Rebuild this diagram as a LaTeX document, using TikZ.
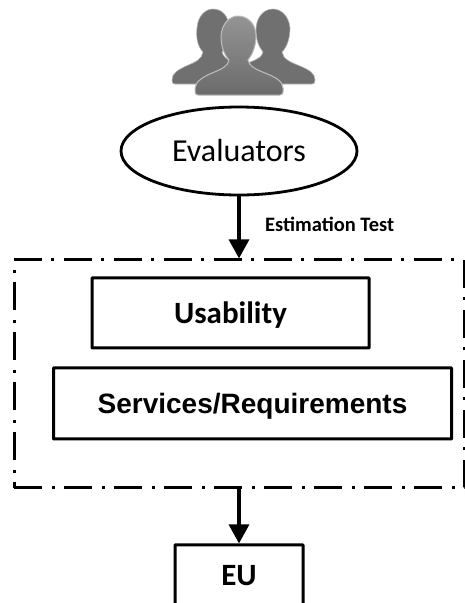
\documentclass[tikz,border=0pt]{standalone}
\usepackage{fontspec}
\setmainfont{Carlito}
\newfontfamily\arialfont{Liberation Sans}
\usetikzlibrary{positioning,arrows.meta,shapes.geometric}

\tikzset{
    block/.style={draw, line width=3pt, rounded corners=0.5pt, inner sep=0pt, text depth=0pt, font=\bfseries\fontsize{31}{33}\selectfont},
    group/.style={draw, line width=3pt, dash pattern=on 28pt off 10pt on 3pt off 9pt, minimum width=450pt, minimum height=228pt},
    edge/.style={line width=3.4pt, -{Triangle[length=19pt, width=20pt]}},
    person/.style={fill=black!56, draw=black!30, line width=0.6pt}
}

\begin{document}
\begin{tikzpicture}[x=1pt, y=-1pt]

            \clip (0,0) rectangle (465,603);
            \useasboundingbox (0,0) rectangle (465,603);

            % people
            \path[person] (172,80) .. controls (172,73) and (178,70) .. (186,66) .. controls (196,62) and (202,59) .. (203,52)
                .. controls (197,46) and (196,36) .. (197,28) .. controls (198,15) and (206,9) .. (213,9)
                .. controls (222,9) and (229,16) .. (229,28) .. controls (229,38) and (226,47) .. (222,52)
                .. controls (223,56) and (226,59) .. (232,62) -- (232,84) -- (175,84) .. controls (173,84) and (172,83) .. (172,80) -- cycle;
            \path[person] (315,80) .. controls (315,73) and (309,70) .. (300,66) .. controls (290,62) and (283,59) .. (282,52)
                .. controls (288,46) and (290,36) .. (290,28) .. controls (289,16) and (281,9) .. (273,9)
                .. controls (263,9) and (256,18) .. (256,30) .. controls (256,40) and (259,47) .. (263,52)
                .. controls (262,56) and (259,59) .. (250,62) -- (250,84) -- (312,84) .. controls (314,84) and (315,83) .. (315,80) -- cycle;
            \path[person, draw=black!25, line width=1pt, top color=black!42, bottom color=black!58] (195,88) .. controls (196,81) and (203,77) .. (212,73) .. controls (222,69) and (228,66) .. (229,60)
                .. controls (223,53) and (221,45) .. (221,36) .. controls (222,23) and (230,16) .. (238,16)
                .. controls (248,16) and (256,24) .. (256,36) .. controls (256,45) and (253,54) .. (248,60)
                .. controls (249,66) and (255,69) .. (265,73) .. controls (275,77) and (283,81) .. (283,88)
                -- (283,92) .. controls (283,94) and (282,95) .. (280,95) -- (198,95) .. controls (196,95) and (195,94) .. (195,92) -- cycle;

            \node[draw, line width=2.8pt, ellipse, minimum width=236pt, minimum height=88pt, inner sep=0pt,
                font=\fontsize{32}{34}\selectfont] (eval) at (239,151) {Evaluators};
            \node[group, below=62pt of eval] (scope) {};
            \node[block, minimum width=277pt, minimum height=70pt, below=18pt of scope.north, xshift=-8.5pt] (usab) {Usability};
            \node[block, minimum width=398pt, minimum height=71pt, below=17pt of usab, xshift=22pt,
                font=\arialfont\bfseries\fontsize{28}{30}\selectfont] (serv) {Services/Requirements};
            \node[block, minimum width=128pt, minimum height=62pt, below=54pt of scope] (eu) {EU};

            \node[right=26pt of eval.south, yshift=-28pt, anchor=west, inner sep=0pt, font=\bfseries\fontsize{20.5}{22}\selectfont] (test) {Estimation Test};

            \draw[edge] (eval) -- (scope);
            \draw[edge] (scope) -- (eu);

\end{tikzpicture}
\end{document}
